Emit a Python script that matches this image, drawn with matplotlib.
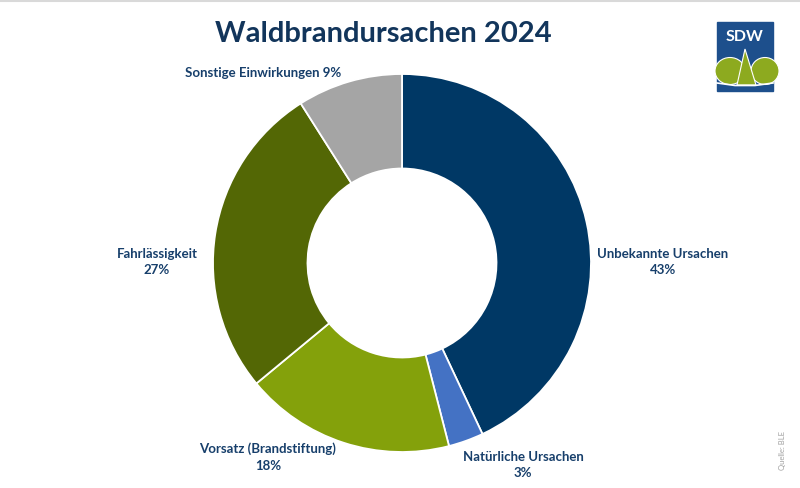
import matplotlib
matplotlib.use("Agg")
import matplotlib.pyplot as plt
from matplotlib.patches import Rectangle, Ellipse, Polygon

# Daten
ursachen = ["Unbekannte Ursachen", "Natürliche Ursachen", "Vorsatz (Brandstiftung)",
            "Fahrlässigkeit", "Sonstige Einwirkungen"]
anteile = [43, 3, 18, 27, 9]
farben = ["#003865", "#4472C4", "#84A10B", "#536705", "#A5A5A5"]

# Beschriftungen (Pixel-Position, Umbruch)
label_pos = [(663, 262), (523, 465), (268, 457), (157, 262), (263, 73)]
umbruch = [True, True, True, True, False]

W, H = 800, 489
navy = "#12355B"

def fx(px):
    return px / W

def fy(py):
    return 1 - py / H

plt.rcParams['font.family'] = ['Lato', 'DejaVu Sans']
fig = plt.figure(figsize=(8, 4.89), dpi=100)
fig.patch.set_facecolor("white")

# Donut
cx, cy, r = 402, 264, 189
ax = fig.add_axes([fx(cx - r), fy(cy + r), 2 * r / W, 2 * r / H])
ax.pie(anteile, colors=farben, startangle=90, counterclock=False,
       radius=1, wedgeprops=dict(width=0.5, edgecolor="white", linewidth=1.3))
ax.set_xlim(-1, 1)
ax.set_ylim(-1, 1)
ax.set_aspect("equal")
ax.axis("off")

fig.text(fx(383), fy(34), "Waldbrandursachen 2024", ha="center", va="center",
         fontsize=21, fontweight="bold", color=navy)

for name, wert, (px, py), br in zip(ursachen, anteile, label_pos, umbruch):
    txt = f"{name}\n{wert}%" if br else f"{name} {wert}%"
    fig.text(fx(px), fy(py), txt, ha="center", va="center", fontsize=9.5,
             fontweight="bold", color="#173F6B", linespacing=1.45)

fig.text(fx(782), fy(451), "Quelle: BLE", rotation=90, ha="center", va="center",
         fontsize=5.5, color="#A0A0A0")

# Tabellen-Gitterlinie oben
fig.add_artist(plt.Line2D([0, 1], [fy(1.5), fy(1.5)], color="#D9D9D9", lw=1.5,
                          transform=fig.transFigure))

# Logo SDW
lx0, ly0, lx1, ly1 = 717, 23, 773, 92
fig.add_artist(Rectangle((fx(lx0), fy(ly1)), (lx1 - lx0) / W, (ly1 - ly0) / H,
                         transform=fig.transFigure, color="#1D4F8C", zorder=1))
fig.text(fx(745), fy(37), "SDW", ha="center", va="center", fontsize=11.5,
         fontweight="bold", color="white", zorder=3)
fig.add_artist(Ellipse((fx(730), fy(72)), 30 / W, 27 / H, transform=fig.transFigure,
                       fc="#8DAA1F", ec="white", lw=0.8, zorder=2))
fig.add_artist(Ellipse((fx(765), fy(72)), 28 / W, 27 / H, transform=fig.transFigure,
                       fc="#8DAA1F", ec="white", lw=0.8, zorder=2))
fig.add_artist(Polygon([(fx(745), fy(50)), (fx(737), fy(86)), (fx(756), fy(86))],
                       closed=True, transform=fig.transFigure, fc="#8DAA1F",
                       ec="white", lw=0.8, zorder=2.2))
fig.add_artist(plt.Line2D([fx(717), fx(735), fx(755), fx(773)],
                          [fy(84), fy(86.5), fy(86.5), fy(84)], color="white", lw=1.2,
                          transform=fig.transFigure, zorder=2.5))

fig.savefig("out.png", dpi=100)
